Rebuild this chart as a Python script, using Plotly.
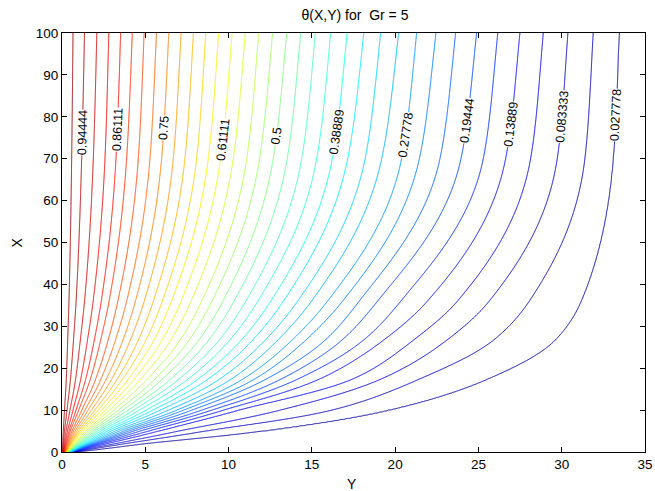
import numpy as np
import plotly.graph_objects as go

# Contour levels theta = k/36, k = 1..35 (listed from the wall outward: 35/36 ... 1/36)
N_LEVELS = 35
theta_levels = [(36 - k) / 36 for k in range(1, N_LEVELS + 1)]

# Rows of constant X and the Y position where each contour crosses that row
ROW_Y = {
    100: [0.66, 1.35, 2.09, 2.81, 3.52, 4.22, 4.93, 5.67, 6.41, 7.15, 7.89, 8.63, 9.40, 10.21,
          11.00, 11.81, 12.64, 13.49, 14.33, 15.21, 16.13, 17.12, 18.12, 19.13, 20.21, 21.29,
          22.45, 23.63, 24.89, 26.16, 27.49, 28.89, 30.37, 31.89, 33.45],
    70: [0.58, 1.18, 1.88, 2.58, 3.24, 3.88, 4.58, 5.28, 5.98, 6.68, 7.38, 8.08, 8.78, 9.52,
         10.28, 11.09, 11.86, 12.68, 13.52, 14.39, 15.29, 16.23, 17.15, 18.20, 19.19, 20.39,
         21.45, 22.69, 23.95, 25.29, 26.63, 28.13, 29.73, 31.39, 33.09],
    36.3: [0.42, 0.85, 1.36, 1.88, 2.37, 2.84, 3.37, 3.90, 4.43, 4.96, 5.51, 6.05, 6.60, 7.18,
           7.78, 8.42, 9.04, 9.70, 10.37, 11.08, 11.80, 12.58, 13.34, 14.20, 15.03, 16.00,
           16.90, 17.90, 19.00, 20.40, 22.00, 23.80, 25.70, 28.10, 31.20],
    26.7: [0.34, 0.69, 1.10, 1.53, 1.94, 2.32, 2.77, 3.21, 3.66, 4.10, 4.58, 5.04, 5.51, 6.01,
           6.53, 7.09, 7.63, 8.21, 8.80, 9.43, 10.06, 10.76, 11.44, 12.20, 12.95, 13.81, 14.63,
           15.80, 16.80, 18.10, 19.30, 21.10, 23.10, 25.90, 29.60],
    17.5: [0.26, 0.51, 0.82, 1.13, 1.43, 1.71, 2.03, 2.35, 2.67, 3.00, 3.33, 3.66, 4.00, 4.35,
           4.75, 5.15, 5.60, 6.05, 6.55, 7.05, 7.60, 8.20, 8.80, 9.50, 10.20, 10.90, 11.60,
           12.30, 13.20, 14.20, 15.50, 17.50, 19.20, 21.50, 25.60],
    10: [0.15, 0.30, 0.48, 0.66, 0.84, 1.00, 1.19, 1.38, 1.57, 1.77, 1.97, 2.17, 2.38, 2.60,
         2.85, 3.10, 3.38, 3.66, 3.97, 4.30, 4.65, 5.05, 5.45, 5.90, 6.40, 6.90, 7.30, 7.80,
         8.40, 9.00, 9.70, 10.60, 13.10, 16.20, 19.60],
    5: [0.08, 0.15, 0.24, 0.33, 0.42, 0.50, 0.60, 0.69, 0.79, 0.89, 0.99, 1.09, 1.19, 1.30,
        1.43, 1.55, 1.69, 1.83, 1.99, 2.15, 2.33, 2.53, 2.73, 2.95, 3.20, 3.45, 3.73, 4.00,
        4.30, 4.70, 5.20, 5.80, 7.00, 8.60, 12.00],
    2: [0.04, 0.08, 0.13, 0.18, 0.23, 0.27, 0.32, 0.37, 0.42, 0.48, 0.52, 0.57, 0.63, 0.68,
        0.75, 0.81, 0.87, 0.95, 1.01, 1.09, 1.17, 1.27, 1.37, 1.47, 1.57, 1.69, 1.81, 1.93,
        2.06, 2.20, 2.40, 2.70, 3.20, 3.80, 5.00],
    1: [0.03, 0.06, 0.10, 0.13, 0.16, 0.20, 0.23, 0.27, 0.30, 0.34, 0.37, 0.40, 0.44, 0.48,
        0.52, 0.56, 0.60, 0.65, 0.69, 0.74, 0.79, 0.85, 0.91, 0.97, 1.03, 1.10, 1.17, 1.24,
        1.31, 1.40, 1.50, 1.65, 1.90, 2.25, 3.00],
    0: [0.02, 0.04, 0.06, 0.08, 0.10, 0.12, 0.14, 0.16, 0.18, 0.20, 0.21, 0.23, 0.25, 0.27,
        0.29, 0.31, 0.33, 0.35, 0.37, 0.39, 0.41, 0.43, 0.45, 0.47, 0.49, 0.51, 0.53, 0.55,
        0.56, 0.58, 0.60, 0.62, 0.64, 0.66, 0.68],
}

# Labelled contours: text, level index k and the height X where the label sits
LABEL_TEXT = ["0.94444", "0.86111", "0.75", "0.61111", "0.5", "0.38889",
              "0.27778", "0.19444", "0.13889", "0.083333", "0.027778"]
LABEL_K = [2, 5, 9, 14, 18, 22, 26, 29, 31, 33, 35]
LABEL_X = [76.2, 76.9, 77.3, 74.5, 75.4, 76.4, 75.7, 79.0, 78.3, 80.0, 80.4]

Y_MAX, X_MAX = 35, 100

# ---- build theta(X, Y) on a grid from the contour crossings ----
rows_x = np.array(sorted(ROW_Y), dtype=float)
rows_u = np.log1p(rows_x)                       # curves are interpolated along log(1 + X)
table = np.array([ROW_Y[r] for r in sorted(ROW_Y)])           # (rows, levels)


def pchip_slopes(x, y):
    """Monotone (Fritsch-Carlson) slopes for a piecewise cubic through (x, y)."""
    h = np.diff(x)
    d = np.diff(y) / h
    m = np.zeros_like(y)
    m[0], m[-1] = d[0], d[-1]
    for i in range(1, len(x) - 1):
        if d[i - 1] * d[i] > 0:
            w1 = 2 * h[i] + h[i - 1]
            w2 = h[i] + 2 * h[i - 1]
            m[i] = (w1 + w2) / (w1 / d[i - 1] + w2 / d[i])
    return m


def pchip_eval(x, y, m, xq):
    xq = np.atleast_1d(xq)
    idx = np.clip(np.searchsorted(x, xq) - 1, 0, len(x) - 2)
    h = x[idx + 1] - x[idx]
    t = (xq - x[idx]) / h
    h00 = 2 * t**3 - 3 * t**2 + 1
    h10 = t**3 - 2 * t**2 + t
    h01 = -2 * t**3 + 3 * t**2
    h11 = t**3 - t**2
    return h00 * y[idx] + h10 * h * m[idx] + h01 * y[idx + 1] + h11 * h * m[idx + 1]


slopes = [pchip_slopes(rows_u, table[:, k]) for k in range(N_LEVELS)]


def contour_y(x):
    """Y of every contour at height(s) x -> array (levels, len(x))."""
    u = np.log1p(np.atleast_1d(x))
    return np.array([pchip_eval(rows_u, table[:, k], slopes[k], u) for k in range(N_LEVELS)])


x_grid = np.unique(np.concatenate([np.linspace(0, 5, 126), np.linspace(5, X_MAX, 381)]))
y_grid = np.unique(np.concatenate([np.linspace(0, 6, 301), np.linspace(6, Y_MAX, 291)]))
theta_arr = np.array(theta_levels)
YK = contour_y(x_grid)                                          # (levels, nx)
Z = np.empty((len(x_grid), len(y_grid)))
for i in range(len(x_grid)):
    yk = YK[:, i] + np.arange(N_LEVELS) * 1e-7
    yk = np.maximum.accumulate(yk)
    yp = np.concatenate([[0.0], yk, [max(Y_MAX + 1.0, yk[-1] + 1.0)]])
    fp = np.concatenate([[1.0], theta_arr, [0.0]])
    Z[i] = np.interp(y_grid, yp, fp)


# MATLAB-style jet, sampled across the contour range so line colours follow theta in [0, 1]
def jet(t):
    r = np.clip(1.5 - abs(4 * t - 3), 0, 1)
    g = np.clip(1.5 - abs(4 * t - 2), 0, 1)
    b = np.clip(1.5 - abs(4 * t - 1), 0, 1)
    return f"rgb({int(r * 255)},{int(g * 255)},{int(b * 255)})"


c_start, c_end = 1 / 36, 35 / 36
colorscale = [[s, jet(c_start + s * (c_end - c_start))] for s in np.linspace(0, 1, 71)]

fig = go.Figure()
fig.add_trace(go.Contour(
    x=y_grid, y=x_grid, z=Z,
    contours=dict(start=c_start, end=c_end + 1e-9, size=1 / 36, coloring="lines"),
    colorscale=colorscale, showscale=False,
    line=dict(width=1, smoothing=0),
    hoverinfo="skip",
))

# inline contour labels, rotated along the line
px_per_y = 583 / Y_MAX
px_per_x = 419 / X_MAX
annotations = []
for text, k, xl in zip(LABEL_TEXT, LABEL_K, LABEL_X):
    y0, ya, yb = contour_y(np.array([xl, xl - 3, xl + 3]))[k - 1]
    ang = np.degrees(np.arctan2(6 * px_per_x, (yb - ya) * px_per_y))
    annotations.append(dict(
        x=y0, y=xl, xref="x", yref="y", text=text, showarrow=False,
        textangle=-ang, font=dict(size=12.5, color="black"),
        bgcolor="white", borderpad=0, xanchor="center", yanchor="middle",
    ))

annotations.append(dict(x=(352 - 62) / 583, y=-(484 - 452) / 419, xref="paper", yref="paper",
                        text="Y", showarrow=False, font=dict(size=14), yanchor="middle"))
annotations.append(dict(x=(16 - 62) / 583, y=0.5, xref="paper", yref="paper",
                        text="X", showarrow=False, font=dict(size=14), textangle=-90,
                        xanchor="center", yanchor="middle"))

axis_common = dict(showline=True, linecolor="black", linewidth=1, mirror="ticks",
                   ticks="inside", ticklen=5, tickcolor="black", showgrid=False,
                   zeroline=False, automargin=False, tickfont=dict(size=13.5, color="black"))

fig.update_layout(
    width=655, height=491, autosize=False,
    margin=dict(l=62, r=10, t=33, b=39),
    paper_bgcolor="white", plot_bgcolor="white",
    font=dict(family="Liberation Sans, Arial, sans-serif", color="black"),
    title=dict(text="θ(X,Y) for \u00a0Gr = 5", x=(355 / 655),
               xanchor="center", y=1 - 15 / 491, yanchor="middle", yref="container",
               font=dict(size=14)),
    xaxis=dict(range=[0, Y_MAX], tickvals=list(range(0, 36, 5)), **axis_common),
    yaxis=dict(range=[0, X_MAX], tickvals=list(range(0, 101, 10)), **axis_common),
    annotations=annotations,
    showlegend=False,
)

fig.write_html("out.html", config={"responsive": False})
